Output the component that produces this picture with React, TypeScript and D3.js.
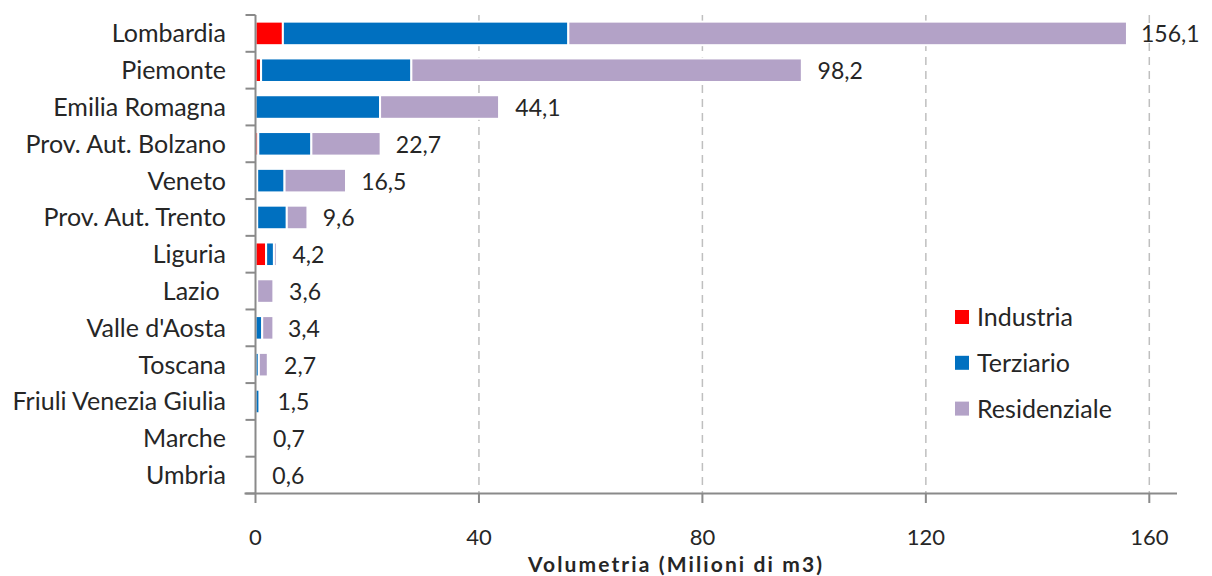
import React from "react";
import * as d3 from "d3";

const categories = [
  "Lombardia",
  "Piemonte",
  "Emilia Romagna",
  "Prov. Aut. Bolzano",
  "Veneto",
  "Prov. Aut. Trento",
  "Liguria",
  "Lazio\u00A0",
  "Valle d'Aosta",
  "Toscana",
  "Friuli Venezia Giulia",
  "Marche",
  "Umbria",
];
const industria = [4.9, 1.0, 0, 0.5, 0.3, 0.3, 1.9, 0, 0, 0, 0, 0, 0];
const terziario = [51.1, 26.9, 22.3, 9.5, 4.9, 5.3, 1.4, 0.3, 1.2, 0.6, 0.7, 0, 0];
const residenziale = [100.0, 69.9, 21.3, 12.4, 11.0, 3.7, 0.5, 2.9, 2.0, 1.6, 0, 0, 0];
const totals = [156.1, 98.2, 44.1, 22.7, 16.5, 9.6, 4.2, 3.6, 3.4, 2.7, 1.5, 0.7, 0.6];
const totalLabels = ["156,1", "98,2", "44,1", "22,7", "16,5", "9,6", "4,2", "3,6", "3,4", "2,7", "1,5", "0,7", "0,6"];
const xTicks = [0, 40, 80, 120, 160];
const seriesNames = ["Industria", "Terziario", "Residenziale"];
const seriesColors = ["#FF0000", "#0070C0", "#B3A2C7"];

const W = 1212;
const H = 576;
const FONT = "Lato, 'Open Sans', sans-serif";
const TEXT = "#262626";
const AXIS = "#8a8a8a";

export default function App() {
  const x = d3.scaleLinear().domain([0, 160]).range([255.5, 1149.3]);
  const y = d3
    .scaleBand<string>()
    .domain(categories)
    .range([15, 493.5])
    .paddingInner(0.36)
    .paddingOuter(0.18);
  const step = y.step();

  const rows = categories.map((c, i) => ({
    key: c,
    industria: industria[i],
    terziario: terziario[i],
    residenziale: residenziale[i],
  }));
  const stack = d3.stack<any>().keys(["industria", "terziario", "residenziale"]);
  const layers = stack(rows);

  const y0 = 15;
  const yAxisBottom = 493.5;

  return (
    <svg
      width={W}
      height={H}
      style={{ position: "absolute", left: 0, top: 0, background: "#fff" }}
      fontFamily={FONT}
    >
      {/* gridlines */}
      {xTicks.slice(1).map((t) => (
        <line
          key={"g" + t}
          x1={x(t)}
          x2={x(t)}
          y1={y0}
          y2={yAxisBottom}
          stroke="#BFBFBF"
          strokeWidth={1.5}
          strokeDasharray="8,6"
        />
      ))}
      {/* bars */}
      {layers.map((layer, li) => (
        <g key={"l" + li} fill={seriesColors[li]}>
          {layer.map((d, i) => {
            const w = x(d[1]) - x(d[0]);
            if (w <= 0) return null;
            return (
              <rect
                key={i}
                x={x(d[0])}
                y={y(categories[i])!}
                width={w}
                height={y.bandwidth()}
                stroke="#fff"
                strokeWidth={2}
              />
            );
          })}
        </g>
      ))}
      {/* value labels */}
      {totals.map((t, i) => (
        <text
          key={"v" + i}
          x={x(t) + 13.5}
          y={y(categories[i])! + y.bandwidth() / 2 + 9}
          fontSize={23}
          fill={TEXT}
        >
          {totalLabels[i]}
        </text>
      ))}
      {/* y axis */}
      <line x1={x(0)} x2={x(0)} y1={y0} y2={yAxisBottom} stroke={AXIS} strokeWidth={2} />
      {d3.range(categories.length + 1).map((i) => (
        <line
          key={"yt" + i}
          x1={x(0) - 10}
          x2={x(0)}
          y1={y0 + i * step}
          y2={y0 + i * step}
          stroke={AXIS}
          strokeWidth={2}
        />
      ))}
      {categories.map((c) => (
        <text
          key={"c" + c}
          x={226}
          y={y(c)! + y.bandwidth() / 2 + 9}
          textAnchor="end"
          fontSize={25}
          fill={TEXT}
          style={{ whiteSpace: "pre" }}
        >
          {c}
        </text>
      ))}
      {/* x axis */}
      <line x1={x(0) - 11} x2={1177} y1={yAxisBottom} y2={yAxisBottom} stroke={AXIS} strokeWidth={2} />
      {xTicks.map((t) => (
        <g key={"xt" + t}>
          <line x1={x(t)} x2={x(t)} y1={yAxisBottom} y2={503} stroke={AXIS} strokeWidth={2} />
          <text x={x(t)} y={545} textAnchor="middle" fontSize={22} fill={TEXT}>
            {t}
          </text>
        </g>
      ))}
      <text
        x={675}
        y={572}
        textAnchor="middle"
        fontSize={21}
        fontWeight={700}
        fill={TEXT}
        textLength={294}
        lengthAdjust="spacing"
      >
        Volumetria (Milioni di m3)
      </text>
      {/* legend */}
      {seriesNames.map((s, i) => (
        <g key={"lg" + s} transform={`translate(955, ${310 + i * 45.8})`}>
          <rect x={0} y={0} width={14} height={14} fill={seriesColors[i]} />
          <text x={22} y={16} fontSize={25} fill={TEXT}>
            {s}
          </text>
        </g>
      ))}
    </svg>
  );
}
